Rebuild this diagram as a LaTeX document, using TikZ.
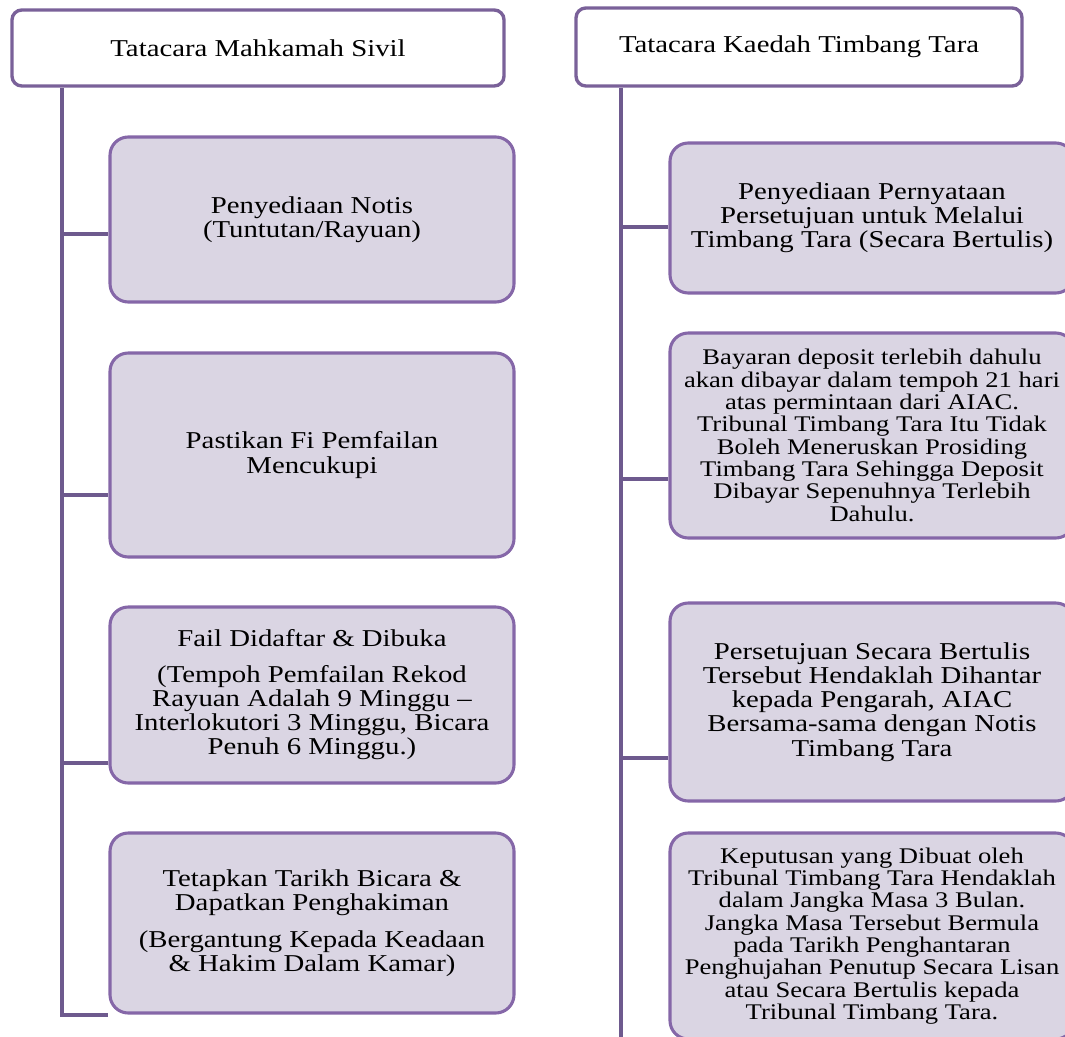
\documentclass[tikz,border=0pt]{standalone}
\usepackage{fontspec}
\setmainfont{Liberation Serif}[FakeStretch=1.19]
\definecolor{headline}{HTML}{7A6199}
\definecolor{boxline}{HTML}{8567A8}
\definecolor{boxfill}{HTML}{DAD5E3}
\definecolor{trunkline}{HTML}{6E5A8E}
\begin{document}
\begin{tikzpicture}[
  head/.style={draw=headline, line width=2.4pt, fill=white, rounded corners=7pt,
    align=center, font=\fontsize{17.2}{17.2}\selectfont},
  entry/.style={draw=boxline, line width=2.2pt, fill=boxfill, rounded corners=13pt,
    minimum width=10.1cm, align=center, font=\fontsize{17.2}{17.2}\selectfont},
  dense/.style={font=\fontsize{15.9}{15.9}\selectfont},
  trunk/.style={draw=trunkline, line width=3pt}]
\useasboundingbox (0,0) rectangle (26.625,-25.9);
\clip (0,0) rectangle (26.625,-25.9);

% headings
\node[head, minimum width=12.3cm, minimum height=1.9cm] (lt) at (6.45,-1.2) {Tatacara Mahkamah Sivil};
\node[head, minimum width=11.15cm, minimum height=1.95cm] (rt) at (19.975,-1.175) {Tatacara Kaedah Timbang Tara};

% left column
\node[entry, minimum height=4.125cm] (l1) at (7.8,-5.4875) {Penyediaan Notis\\(Tuntutan/Rayuan)};
\node[entry, minimum height=5.1cm] (l2) at (7.8,-11.375) {Pastikan Fi Pemfailan\\Mencukupi};
\node[entry, minimum height=4.4cm] (l3) at (7.8,-17.375) {Fail Didaftar \& Dibuka\\[8pt]
  (Tempoh Pemfailan Rekod\\Rayuan Adalah 9 Minggu --\\Interlokutori 3 Minggu, Bicara\\Penuh 6 Minggu.)};
\node[entry, minimum height=4.5cm] (l4) at (7.8,-23.075) {Tetapkan Tarikh Bicara \&\\Dapatkan Penghakiman\\[9pt]
  (Bergantung Kepada Keadaan\\\& Hakim Dalam Kamar)};

% right column
\node[entry, minimum height=3.75cm] (r1) at (21.8,-5.45) {Penyediaan Pernyataan\\Persetujuan untuk Melalui\\Timbang Tara (Secara Bertulis)};
\node[entry, dense, minimum height=5.125cm] (r2) at (21.8,-10.8875) {Bayaran deposit terlebih dahulu\\akan dibayar dalam tempoh 21 hari\\
  atas permintaan dari AIAC.\\Tribunal Timbang Tara Itu Tidak\\Boleh Meneruskan Prosiding\\
  Timbang Tara Sehingga Deposit\\Dibayar Sepenuhnya Terlebih\\Dahulu.};
\node[entry, minimum height=4.95cm] (r3) at (21.8,-17.55) {Persetujuan Secara Bertulis\\Tersebut Hendaklah Dihantar\\
  kepada Pengarah, AIAC\\Bersama-sama dengan Notis\\Timbang Tara};
\node[entry, dense, minimum height=5.15cm] (r4) at (21.8,-23.4) {Keputusan yang Dibuat oleh\\Tribunal Timbang Tara Hendaklah\\
  dalam Jangka Masa 3 Bulan.\\Jangka Masa Tersebut Bermula\\pada Tarikh Penghantaran\\
  Penghujahan Penutup Secara Lisan\\atau Secara Bertulis kepada\\Tribunal Timbang Tara.};

% trunk points
\coordinate (lb1) at (1.55,-5.85);
\coordinate (lb2) at (1.55,-12.375);
\coordinate (lb3) at (1.55,-19.075);
\coordinate (lb4) at (1.55,-25.375);
\coordinate (rb1) at (15.525,-5.675);
\coordinate (rb2) at (15.525,-11.975);
\coordinate (rb3) at (15.525,-18.95);
\coordinate (rbend) at (15.525,-25.95);

% connectors
\draw[trunk] (lt.south -| lb4) -- (lb4) -- (lb4 -| l4.west);
\draw[trunk] (lb1) -- (lb1 -| l1.west);
\draw[trunk] (lb2) -- (lb2 -| l2.west);
\draw[trunk] (lb3) -- (lb3 -| l3.west);
\draw[trunk] (rt.south -| rbend) -- (rbend);
\draw[trunk] (rb1) -- (rb1 -| r1.west);
\draw[trunk] (rb2) -- (rb2 -| r2.west);
\draw[trunk] (rb3) -- (rb3 -| r3.west);
\end{tikzpicture}
\end{document}
